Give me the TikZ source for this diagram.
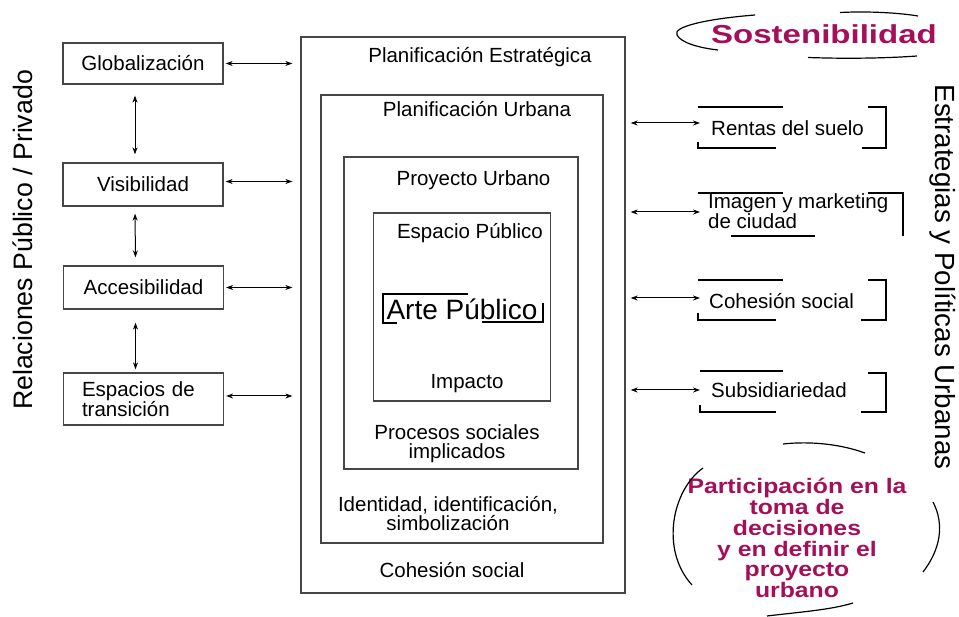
\documentclass[tikz,border=0pt]{standalone}
\usepackage{fontspec}
\usepackage{graphicx}
\setmainfont{Liberation Sans}
\newfontfamily\vertfont{Liberation Sans}
\newfontfamily\magfont{Liberation Sans Bold}
\usetikzlibrary{arrows.meta}
\definecolor{magen}{RGB}{165,15,90}
\definecolor{boxgray}{RGB}{70,70,70}
\begin{document}
\begin{tikzpicture}[x=1pt,y=-1pt,
  bx/.style={draw=boxgray,line width=1.3pt,inner sep=0pt},
  lbox/.style={bx,minimum width=160pt,font=\fontsize{20.5}{19}\selectfont},
  txt/.style={inner sep=0pt,font=\fontsize{20.5}{19}\selectfont},
  arr/.style={{Stealth[length=7pt,width=5pt]}-{Stealth[length=7pt,width=5pt]},line width=1pt},
  br/.style={line width=1.3pt},
  mag/.style={inner sep=0pt,text=magen},
  arc/.style={line width=1.2pt}
]
\useasboundingbox (0,0) rectangle (959,617);

% left column
\node[lbox,minimum height=41pt] (glob) at (143,63.5) {Globalización};
\node[lbox,minimum height=43pt] (vis) at (143,184.5) {Visibilidad};
\node[lbox,minimum height=43pt] (acc) at (143.5,287.5) {Accesibilidad};
\node[lbox,minimum height=52pt,align=left,text width=123pt] (esp) at (143.5,399) {Espacios de\\transición};

% nested boxes
\node[bx,minimum width=324pt,minimum height=556pt] (pe) at (463,315) {};
\node[bx,minimum width=282pt,minimum height=448pt] (pu) at (462,319) {};
\node[bx,minimum width=234pt,minimum height=312pt] (py) at (461,313) {};
\node[bx,minimum width=177pt,minimum height=188pt] (ep) at (462,307) {};

\node[txt,anchor=base] (tpe) at (480,63) {Planificación Estratégica};
\node[txt,anchor=base] (tpu) at (477,117) {Planificación Urbana};
\node[txt,anchor=base] (tpy) at (473.5,186) {Proyecto Urbano};
\node[txt,anchor=base] (tep) at (470,239) {Espacio Público};
\node[txt,anchor=base,font=\fontsize{28}{30}\selectfont] (arte) at (462,320) {Arte Público};
\node[txt,anchor=base] (imp) at (467,389) {Impacto};
\node[txt,anchor=base,align=center] (proc) at (457,459) {Procesos sociales\\implicados};
\node[txt,anchor=base,align=center] (ident) at (448,530) {Identidad, identificación,\\simbolización};
\node[txt,anchor=base] (cohc) at (452,577) {Cohesión social};

% Arte Publico bracket
\draw[br] (397,323) -- (383,323) -- (383,294) -- (468,294);
\draw[br] (482,322) -- (543,322) -- (543,303);

% left arrows
\draw[arr,shorten <=11pt,shorten >=8pt] ([xshift=-8pt]glob.south) -- ([xshift=-8pt]vis.north);
\draw[arr,shorten <=7pt,shorten >=8pt] ([xshift=-8pt]vis.south) -- ([xshift=-8pt]acc.north);
\draw[arr,shorten <=13pt,shorten >=3pt] ([xshift=-8pt]acc.south) -- ([xshift=-8pt]esp.north);
\draw[arr,shorten <=2pt,shorten >=8pt] (glob.east) -- (glob.east -| pe.west);
\draw[arr,shorten <=2pt,shorten >=8pt] ([yshift=3pt]vis.east) -- ([yshift=3pt]vis.east -| pe.west);
\draw[arr,shorten <=2pt,shorten >=8pt] (acc.east) -- (acc.east -| pe.west);
\draw[arr,shorten <=2pt,shorten >=8pt] ([yshift=3pt]esp.east) -- ([yshift=3pt]esp.east -| pe.west);

% right labels
\node[txt,anchor=base west] (rentas) at (711,136) {Rentas del suelo};
\node[txt,anchor=base west,align=left] (imagen) at (708,229) {Imagen y marketing\\de ciudad};
\node[txt,anchor=base west] (cohes) at (709,309) {Cohesión social};
\node[txt,anchor=base west] (subs) at (711,398) {Subsidiariedad};

\coordinate (ra) at (700,123);
\coordinate (ia) at (700,212);
\coordinate (ca) at (700,298);
\coordinate (sa) at (700,390);
\draw[arr,shorten <=5pt] (pe.east |- ra) -- (ra);
\draw[arr,shorten <=5pt] (pe.east |- ia) -- (ia);
\draw[arr,shorten <=5pt] (pe.east |- ca) -- (ca);
\draw[arr,shorten <=5pt] (pe.east |- sa) -- (sa);

% right brackets
\draw[br] (698,107) -- (783,107);
\draw[br] (698,142) -- (698,148) -- (776,148);
\draw[br] (868,107) -- (886,107) -- (886,148) -- (862,148);
\draw[br] (698,193) -- (783,193);
\draw[br] (731,236) -- (815,236);
\draw[br] (868,193) -- (903,193) -- (903,236);
\draw[br] (698,280) -- (783,280);
\draw[br] (698,313) -- (698,320) -- (776,320);
\draw[br] (868,280) -- (886,280) -- (886,320) -- (861,320);
\draw[br] (700,371) -- (783,371);
\draw[br] (700,405) -- (700,412) -- (776,412);
\draw[br] (868,373) -- (886,373) -- (886,412) -- (861,412);

% vertical titles
\node[rotate=90,inner sep=0pt,font=\vertfont\fontsize{26.7}{28}\selectfont] (relac) at (23,240) {Relaciones Público / Privado};
\node[rotate=-90,inner sep=0pt,font=\vertfont\fontsize{27.7}{29}\selectfont] (estr) at (943,277) {Estrategias y Políticas Urbanas};

% Sostenibilidad
\node[mag,font=\magfont\fontsize{26}{28}\selectfont] (sost) at (824,34) {\scalebox{1.27}[1]{Sostenibilidad}};
\draw[arc] (755,15) .. controls (705,19) and (672,27) .. (677,35) .. controls (681,43) and (700,48) .. (718,50);
\draw[arc] (840,12.5) .. controls (870,11) and (900,13) .. (918,16);
\draw[arc] (808,57.5) .. controls (850,59) and (890,58) .. (917,56);

% Participacion
\node[mag,anchor=base,font=\magfont\fontsize{21}{19}\selectfont] (part) at (797,597) {\scalebox{1.18}[1]{\begin{tabular}[b]{@{}c@{}}Participación en la\\toma de\\decisiones\\y en definir el\\proyecto\\urbano\end{tabular}}};
\draw[arc] (783,444) .. controls (810,441) and (840,444) .. (865,453);
\draw[arc] (703,468) .. controls (672,490) and (660,550) .. (692,585);
\draw[arc] (933,502) .. controls (945,525) and (940,550) .. (923,572);
\draw[arc] (767,616) .. controls (800,612) and (830,610) .. (853,603);
\end{tikzpicture}
\end{document}
